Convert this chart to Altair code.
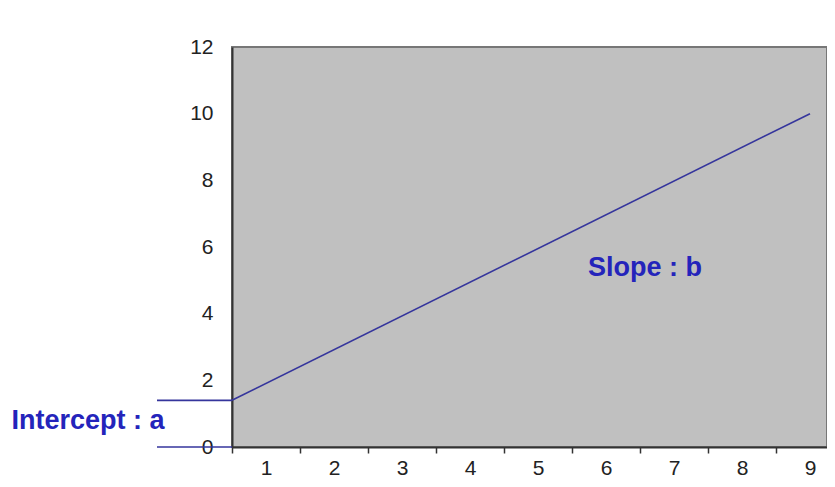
import altair as alt
import pandas as pd

# Data
line_x = [0.5, 9]
line_y = [1.4, 10]
x_labels = [1, 2, 3, 4, 5, 6, 7, 8, 9]
x_boundaries = [0.5, 1.5, 2.5, 3.5, 4.5, 5.5, 6.5, 7.5, 8.5]
y_ticks = [0, 2, 4, 6, 8, 10, 12]
intercept_levels = [1.4, 0]
slope_label = ["Slope : b"]
intercept_label = ["Intercept : a"]

FONT = "Liberation Sans"
BLUE_TEXT = "#2424bb"
BLUE_LINE = "#35359c"

line_df = pd.DataFrame({"x": line_x, "y": line_y})
lev_df = pd.DataFrame({"y": intercept_levels})

x_axis_vals = sorted(x_labels + x_boundaries)

xscale = alt.Scale(domain=[0.5, 9.25], nice=False, zero=False)
yscale = alt.Scale(domain=[0, 12], nice=False)

line = alt.Chart(line_df).mark_line(color=BLUE_LINE, strokeWidth=1.6).encode(
    x=alt.X("x:Q", scale=xscale, title=None,
            axis=alt.Axis(values=x_axis_vals,
                          labelExpr="datum.value % 1 === 0 ? format(datum.value, 'd') : ''",
                          tickOpacity={"condition": {"test": "datum.value % 1 !== 0", "value": 1}, "value": 0},
                          tickSize=6, tickWidth=1.5, tickColor="#333333",
                          domainColor="#333333", domainWidth=2,
                          labelFont=FONT, labelFontSize=21, labelColor="#222222",
                          labelPadding=4, grid=False)),
    y=alt.Y("y:Q", scale=yscale, title=None,
            axis=alt.Axis(values=y_ticks, ticks=False, grid=False,
                          domainColor="#333333", domainWidth=2,
                          labelFont=FONT, labelFontSize=21, labelColor="#222222",
                          labelPadding=19)),
)

levels = alt.Chart(lev_df).mark_rule(color=BLUE_LINE, strokeWidth=1.6).encode(
    y=alt.Y("y:Q", scale=yscale),
    x=alt.value(-75),
    x2=alt.value(0),
)

slope_text = alt.Chart(pd.DataFrame({"t": slope_label})).mark_text(
    font=FONT, fontSize=27, fontWeight="bold", color=BLUE_TEXT,
    align="center", baseline="middle"
).encode(text="t:N", x=alt.value(413), y=alt.value(221))

int_text = alt.Chart(pd.DataFrame({"t": intercept_label})).mark_text(
    font=FONT, fontSize=27, fontWeight="bold", color=BLUE_TEXT,
    align="center", baseline="middle"
).encode(text="t:N", x=alt.value(-144), y=alt.value(374))

chart = alt.layer(line, levels, slope_text, int_text).properties(
    width=595, height=400,
    autosize=alt.AutoSizeParams(type="none"),
    padding={"left": 224, "top": 39, "right": 0, "bottom": 32},
).configure_view(
    fill="#c0c0c0", stroke="#777777", strokeWidth=2
)

chart.save("out.html", embed_options={"renderer": "svg", "actions": False})
